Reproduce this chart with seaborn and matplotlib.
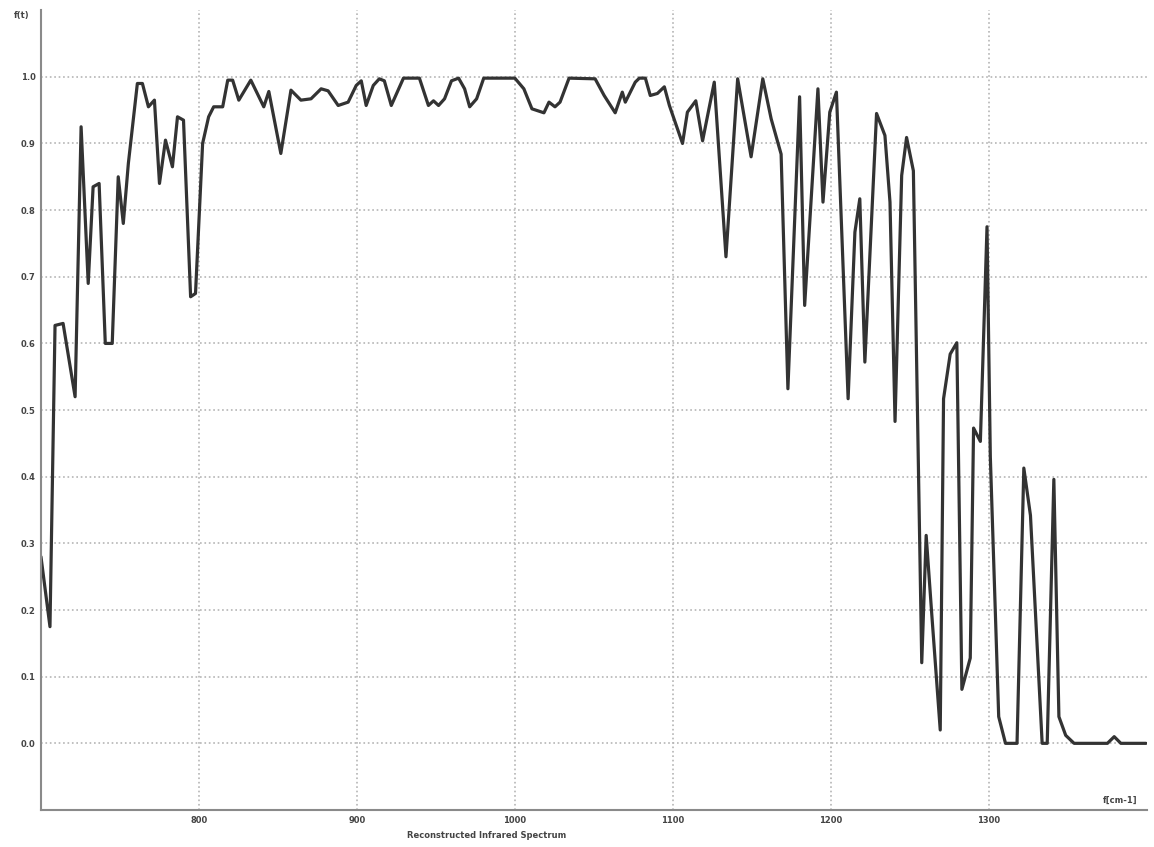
import numpy as np
import pandas as pd
import seaborn as sns
import matplotlib.pyplot as plt

# wavenumber (cm-1) and reconstructed signal
wavenumber = [
    700, 705.7, 708.9, 714, 721.6, 725.4, 729.9, 733, 736.8, 740.7, 745.1,
    748.9, 752.1, 755.3, 761, 764.2, 768, 771.8, 775, 778.8, 783.2, 786.4,
    790.2, 794.7, 797.8, 802.3, 806.1, 809.3, 815, 818.2, 821.3, 825.2,
    832.8, 841, 844.2, 851.8, 858.2, 864.5, 870.9, 877.3, 881.7, 888.1,
    894.4, 899.5, 902.7, 905.8, 910.3, 914.1, 917.3, 921.7, 929.4, 939.5,
    945.2, 948.4, 951.6, 955.4, 959.8, 964.3, 968.1, 971.3, 975.7, 980.2,
    999.9, 1005.6, 1010.7, 1018.3, 1021.5, 1025.3, 1028.5, 1034.2, 1050.7,
    1056.4, 1063.4, 1067.9, 1069.8, 1076.1, 1078.7, 1082.5, 1085.6, 1090.1,
    1094.5, 1097.7, 1106, 1109.1, 1114.4, 1118.7, 1126.1, 1133.5, 1140.9,
    1149.4, 1156.8, 1162.1, 1168.4, 1172.7, 1180.1, 1183.3, 1191.7, 1194.9,
    1199.2, 1203.4, 1210.8, 1215.1, 1218.2, 1221.4, 1228.8, 1234.1, 1237.3,
    1240.5, 1244.7, 1247.8, 1252.1, 1254.2, 1256.3, 1257.4, 1260.2, 1263.7,
    1269.1, 1271.2, 1275.4, 1279.6, 1282.8, 1288.1, 1290.2, 1294.5, 1298.7,
    1300.8, 1306.1, 1310.4, 1317.7, 1322.0, 1326.2, 1333.6, 1336.8, 1341.0,
    1344.2, 1348.5, 1353.8, 1374.9, 1379.2, 1383.4, 1399.3,
]
signal = [
    0.28, 0.175, 0.627, 0.63, 0.52, 0.925, 0.69, 0.835, 0.84, 0.60, 0.60,
    0.85, 0.78, 0.87, 0.99, 0.99, 0.955, 0.965, 0.84, 0.905, 0.865, 0.94,
    0.935, 0.67, 0.675, 0.90, 0.94, 0.955, 0.955, 0.995, 0.995, 0.965,
    0.995, 0.955, 0.978, 0.885, 0.98, 0.965, 0.967, 0.982, 0.979, 0.957,
    0.962, 0.987, 0.994, 0.957, 0.987, 0.997, 0.994, 0.957, 0.998, 0.998,
    0.957, 0.964, 0.957, 0.967, 0.994, 0.998, 0.982, 0.955, 0.967, 0.998,
    0.998, 0.982, 0.952, 0.946, 0.962, 0.955, 0.962, 0.998, 0.997,
    0.972, 0.946, 0.977, 0.962, 0.992, 0.998, 0.998, 0.972, 0.975,
    0.985, 0.957, 0.90, 0.947, 0.964, 0.904, 0.992, 0.730, 0.997,
    0.880, 0.997, 0.937, 0.884, 0.532, 0.970, 0.657, 0.982, 0.812,
    0.947, 0.977, 0.517, 0.767, 0.817, 0.572, 0.945, 0.912, 0.812,
    0.483, 0.852, 0.909, 0.859, 0.564, 0.262, 0.121, 0.312, 0.195,
    0.020, 0.517, 0.584, 0.601, 0.081, 0.128, 0.473, 0.453, 0.775,
    0.430, 0.040, 0.0, 0.0, 0.413, 0.342, 0.0, 0.0, 0.396,
    0.040, 0.012, 0.0, 0.0, 0.010, 0.0, 0.0,
]
x_ticks = [800, 900, 1000, 1100, 1200, 1300]
y_ticks = [0.0, 0.1, 0.2, 0.3, 0.4, 0.5, 0.6, 0.7, 0.8, 0.9, 1.0]

df = pd.DataFrame({"wavenumber": wavenumber, "signal": signal})

sns.set_style("white")
fig = plt.figure(figsize=(11.54, 8.47), dpi=100)
ax = fig.add_axes([0.0355, 0.0437, 0.9585, 0.9443])

sns.lineplot(data=df, x="wavenumber", y="signal", ax=ax, color="#333333",
             linewidth=2.3, sort=False)

ax.set_xlim(700, 1400)
ax.set_ylim(-0.1, 1.1)
ax.set_xticks(x_ticks)
ax.set_yticks(y_ticks)
ax.set_xticklabels([str(v) for v in x_ticks], fontsize=6, fontweight="bold", color="#444444")
ax.set_yticklabels([f"{v:.1f}" for v in y_ticks], fontsize=6, fontweight="bold", color="#444444")
ax.tick_params(length=0, pad=4)
ax.set_xlabel("")
ax.set_ylabel("")

ax.grid(True, linestyle=":", color="#b5b5b5", linewidth=1.2)
for side in ["top", "right"]:
    ax.spines[side].set_visible(False)
for side in ["left", "bottom"]:
    ax.spines[side].set_color("#8a8a8a")
    ax.spines[side].set_linewidth(1.5)

fig.text(0.019, 0.982, "f(t)", fontsize=6, fontweight="bold", color="#444444",
         ha="center", va="center")
fig.text(0.9705, 0.0555, "f[cm-1]", fontsize=6, fontweight="bold", color="#444444",
         ha="center", va="center")
fig.text(0.422, 0.014, "Reconstructed Infrared Spectrum", fontsize=6,
         fontweight="bold", color="#444444", ha="center", va="center")

fig.savefig("out.png", dpi=100)
